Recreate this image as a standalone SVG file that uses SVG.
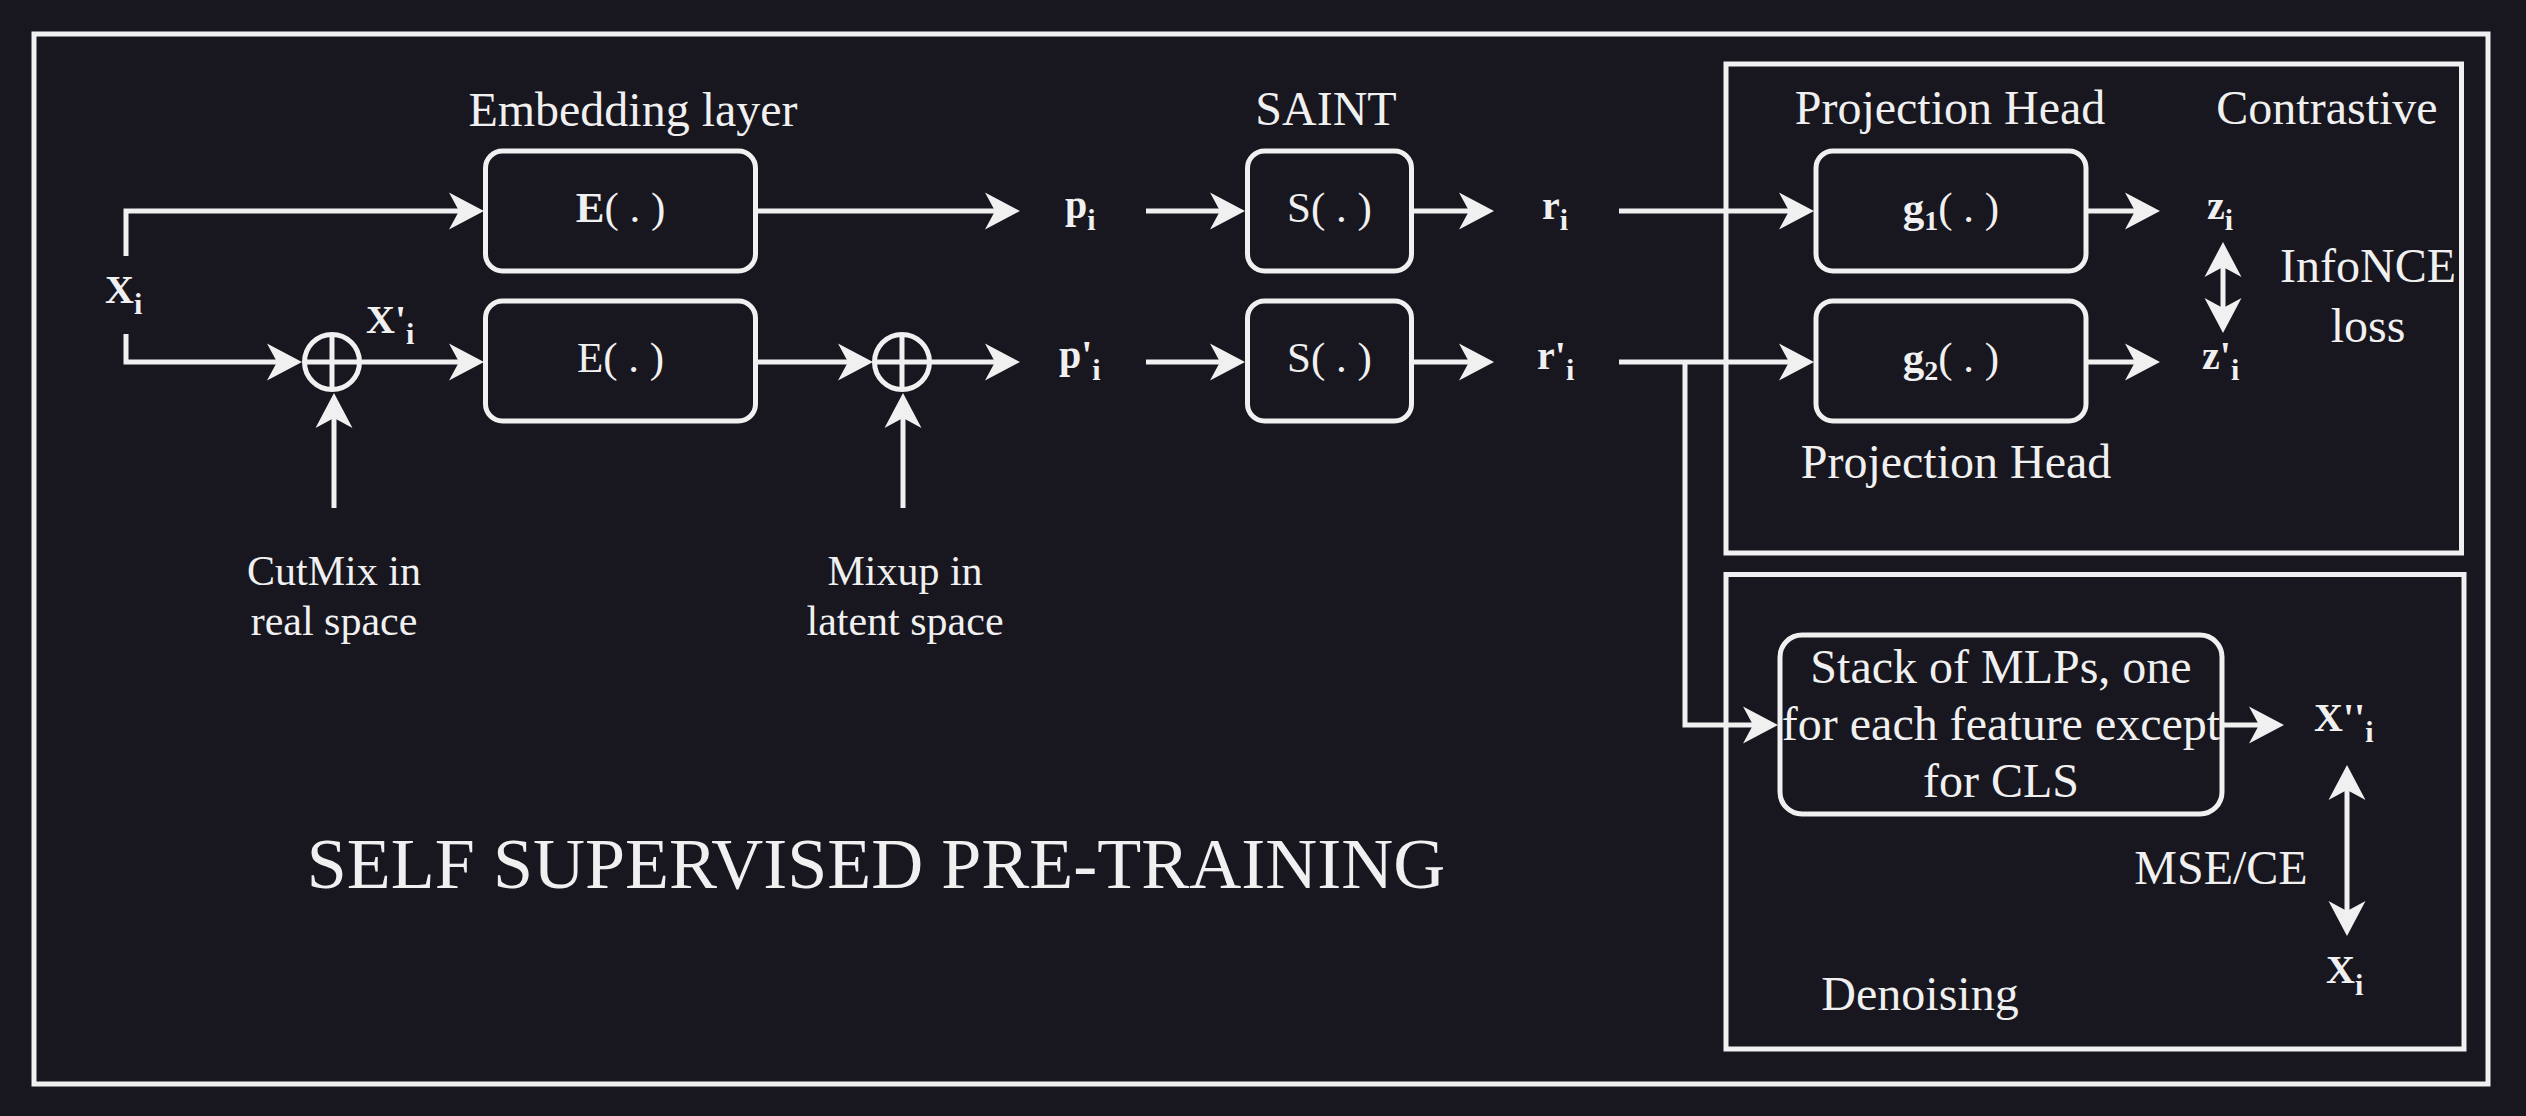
<svg xmlns="http://www.w3.org/2000/svg" width="2526" height="1116" viewBox="0 0 2526 1116">
<style>
.bg{fill:#18161f}
.box{fill:none;stroke:#f0f0f0;stroke-width:5}
.node{fill:#18161f;stroke:#f0f0f0;stroke-width:5}
.ln{fill:none;stroke:#f0f0f0;stroke-width:5}
text{font-family:"Liberation Serif","Times New Roman",serif;fill:#f0f0f0}
.h{font-size:48px}
.f{font-size:43px}
.m{font-size:42px}
.v{font-size:40px;font-weight:bold}
.sub{font-size:30px}
.big{font-size:72px}
</style>
<defs>
<marker id="ah" markerUnits="userSpaceOnUse" markerWidth="36" markerHeight="38" viewBox="0 0 36 38" refX="12" refY="19" orient="auto-start-reverse">
<path d="M0,0.5 L35,19 L0,37.5 L10,19 Z" fill="#f0f0f0"/>
</marker>
</defs>
<rect class="bg" x="0" y="0" width="2526" height="1116"/>
<g id="frame">
<rect class="box" x="34" y="34" width="2454" height="1050"/>
<text class="big" x="876" y="888" text-anchor="middle">SELF SUPERVISED PRE-TRAINING</text>
</g>
<g id="contrastive-group">
<rect class="box" x="1726" y="64" width="735.5" height="489"/>
<text class="h" x="2327" y="124" text-anchor="middle">Contrastive</text>
<text class="h" x="1950" y="124" text-anchor="middle">Projection Head</text>
<text class="h" x="1956" y="478" text-anchor="middle">Projection Head</text>
<text class="h" x="2368" y="282" text-anchor="middle">InfoNCE</text>
<text class="h" x="2368" y="342" text-anchor="middle">loss</text>
</g>
<g id="denoising-group">
<rect class="box" x="1726" y="574.5" width="738" height="474.5"/>
<text class="h" x="1920" y="1010" text-anchor="middle">Denoising</text>
<text class="h" x="2221" y="884" text-anchor="middle">MSE/CE</text>
</g>
<g id="connectors">
<path class="ln" d="M126,256 V211 H461" marker-end="url(#ah)"/>
<path class="ln" d="M126,334 V362 H279" marker-end="url(#ah)"/>
<path class="ln" d="M360,362 H461" marker-end="url(#ah)"/>
<path class="ln" d="M334,508 V416" marker-end="url(#ah)"/>
<path class="ln" d="M756,211 H997" marker-end="url(#ah)"/>
<path class="ln" d="M756,362 H850" marker-end="url(#ah)"/>
<path class="ln" d="M930,362 H997" marker-end="url(#ah)"/>
<path class="ln" d="M903,508 V416" marker-end="url(#ah)"/>
<path class="ln" d="M1146,211 H1222" marker-end="url(#ah)"/>
<path class="ln" d="M1146,362 H1222" marker-end="url(#ah)"/>
<path class="ln" d="M1412,211 H1471" marker-end="url(#ah)"/>
<path class="ln" d="M1412,362 H1471" marker-end="url(#ah)"/>
<path class="ln" d="M1619,211 H1791" marker-end="url(#ah)"/>
<path class="ln" d="M1619,362 H1791" marker-end="url(#ah)"/>
<path class="ln" d="M1685,362 V725 H1755" marker-end="url(#ah)"/>
<path class="ln" d="M2086,211 H2137" marker-end="url(#ah)"/>
<path class="ln" d="M2086,362 H2137" marker-end="url(#ah)"/>
<path class="ln" d="M2223,265 V310" marker-start="url(#ah)" marker-end="url(#ah)"/>
<path class="ln" d="M2222,725 H2261" marker-end="url(#ah)"/>
<path class="ln" d="M2347,788 V913" marker-start="url(#ah)" marker-end="url(#ah)"/>
</g>
<g id="x-input">
<text class="v" x="105" y="303">X<tspan class="sub" dy="11">i</tspan></text>
</g>
<g id="cutmix">
<circle class="node" cx="332" cy="362" r="27.5"/>
<path class="ln" d="M332,334.5 V389.5 M304.5,362 H359.5"/>
<text class="v" x="366" y="333">X'<tspan class="sub" dy="11">i</tspan></text>
<text class="m" x="334" y="585" text-anchor="middle">CutMix in</text>
<text class="m" x="334" y="635" text-anchor="middle">real space</text>
</g>
<g id="embedding">
<text class="h" x="633" y="126" text-anchor="middle">Embedding layer</text>
</g>
<g id="E1">
<rect class="node" x="485.5" y="151" width="270" height="120" rx="17"/>
<text class="f" x="620.5" y="222" text-anchor="middle"><tspan font-weight="bold">E</tspan>( . )</text>
</g>
<g id="E2">
<rect class="node" x="485.5" y="301" width="270" height="120" rx="17"/>
<text class="f" x="620.5" y="372" text-anchor="middle">E( . )</text>
</g>
<g id="mixup">
<circle class="node" cx="902" cy="362" r="27.5"/>
<path class="ln" d="M902,334.5 V389.5 M874.5,362 H929.5"/>
<text class="m" x="905" y="585" text-anchor="middle">Mixup in</text>
<text class="m" x="905" y="635" text-anchor="middle">latent space</text>
</g>
<g id="p-labels">
<text class="v" x="1065" y="218">p<tspan class="sub" dy="12">i</tspan></text>
<text class="v" x="1059" y="368">p'<tspan class="sub" dy="12">i</tspan></text>
</g>
<g id="saint-label">
<text class="h" x="1326" y="125" text-anchor="middle">SAINT</text>
</g>
<g id="S1">
<rect class="node" x="1247.5" y="151" width="164" height="120" rx="17"/>
<text class="f" x="1329.5" y="222" text-anchor="middle">S( . )</text>
</g>
<g id="S2">
<rect class="node" x="1247.5" y="301" width="164" height="120" rx="17"/>
<text class="f" x="1329.5" y="372" text-anchor="middle">S( . )</text>
</g>
<g id="r-labels">
<text class="v" x="1542" y="219">r<tspan class="sub" dy="11">i</tspan></text>
<text class="v" x="1537" y="369">r'<tspan class="sub" dy="11">i</tspan></text>
</g>
<g id="g1">
<rect class="node" x="1816" y="151" width="270" height="120" rx="17"/>
<text class="f" x="1951" y="222" text-anchor="middle"><tspan font-weight="bold">g</tspan><tspan font-weight="bold" font-size="28" dy="8">1</tspan><tspan dy="-8">( . )</tspan></text>
</g>
<g id="g2">
<rect class="node" x="1816" y="301" width="270" height="120" rx="17"/>
<text class="f" x="1951" y="372" text-anchor="middle"><tspan font-weight="bold">g</tspan><tspan font-weight="bold" font-size="28" dy="8">2</tspan><tspan dy="-8">( . )</tspan></text>
</g>
<g id="z-labels">
<text class="v" x="2207" y="219">z<tspan class="sub" dy="11">i</tspan></text>
<text class="v" x="2202" y="369">z'<tspan class="sub" dy="11">i</tspan></text>
</g>
<g id="stack">
<rect class="node" x="1780" y="635" width="442" height="179" rx="22"/>
<text class="h" x="2001" y="683" text-anchor="middle">Stack of MLPs, one</text>
<text class="h" x="2001" y="740" text-anchor="middle">for each feature except</text>
<text class="h" x="2001" y="797" text-anchor="middle">for CLS</text>
</g>
<g id="x-recon">
<text class="v" x="2314" y="731">X''<tspan class="sub" dy="11">i</tspan></text>
<text class="v" x="2326" y="983">X<tspan class="sub" dy="12">i</tspan></text>
</g>
</svg>
